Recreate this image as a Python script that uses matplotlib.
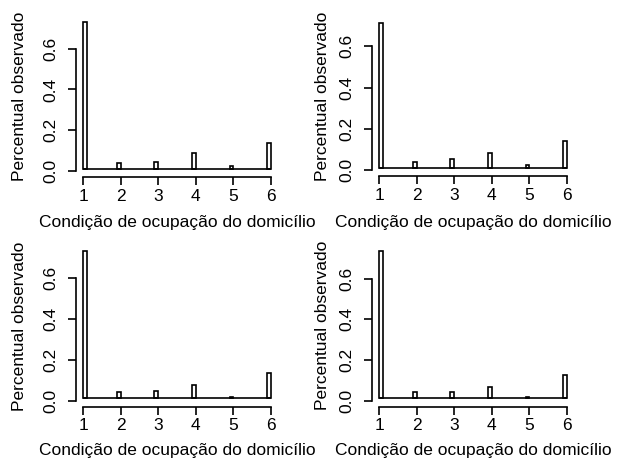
import matplotlib
matplotlib.use("Agg")
import matplotlib.pyplot as plt

plt.rcParams['font.family'] = ['Liberation Sans', 'DejaVu Sans']

categorias = [1, 2, 3, 4, 5, 6]
painel_1 = [0.731, 0.039, 0.045, 0.090, 0.026, 0.139]
painel_2 = [0.714, 0.039, 0.052, 0.081, 0.023, 0.141]
painel_3 = [0.728, 0.044, 0.049, 0.074, 0.018, 0.136]
painel_4 = [0.736, 0.044, 0.043, 0.065, 0.018, 0.128]
yticks = [0.0, 0.2, 0.4, 0.6]
xlabel = "Condição de ocupação do domicílio"
ylabel = "Percentual observado"

W, H = 624, 472
BASE = 0.012
LW = 1.2
FS = 12.5

# plot regions in pixels: (left, right, top, bottom), ylabel x, xlabel baseline y
regions = [
	((75.5, 278.5, 16.0, 177.0), 20, 227),
	((371.5, 574.5, 17.0, 176.0), 322, 227),
	((75.5, 278.5, 245.5, 406.5), 20, 455),
	((371.5, 574.5, 245.0, 406.5), 322, 455),
]
dados = [painel_1, painel_2, painel_3, painel_4]

fig = plt.figure(figsize=(W / 100, H / 100), dpi=100)
fig.patch.set_facecolor("white")

for (reg, ylx, xly), vals in zip(regions, dados):
	l, r, t, b = reg
	ax = fig.add_axes([l / W, 1 - b / H, (r - l) / W, (b - t) / H])
	m = max(vals)
	ax.set_xlim(0.8, 6.2)
	ax.set_ylim(-0.04 * m, 1.04 * m)
	lefts = [c if c == 1 else c - 0.1 for c in categorias]
	ax.bar(lefts, [v - BASE for v in vals], width=0.1, bottom=BASE, align="edge",
		   facecolor="white", edgecolor="black", linewidth=LW)
	ax.hlines(BASE, 1, 6, color="black", linewidth=LW)
	for s in ["top", "right"]:
		ax.spines[s].set_visible(False)
	ax.spines["left"].set_bounds(0, 0.6)
	ax.spines["bottom"].set_bounds(1, 6)
	ax.spines["left"].set_linewidth(LW)
	ax.spines["bottom"].set_linewidth(LW)
	ax.set_xticks(categorias)
	ax.set_yticks(yticks)
	ax.set_yticklabels(["%.1f" % v for v in yticks], rotation=90, va="center")
	ax.tick_params(direction="out", length=5.5, width=LW, labelsize=FS, colors="black")
	ax.tick_params(axis="x", pad=3)
	ax.tick_params(axis="y", pad=7)
	fig.text((l + r) / 2 / W, 1 - xly / H, xlabel, ha="center", va="baseline", fontsize=FS)
	fig.text(ylx / W, 1 - (t + b) / 2 / H, ylabel, rotation=90,
			 ha="center", va="center", fontsize=FS)

plt.savefig("out.png", dpi=100)
